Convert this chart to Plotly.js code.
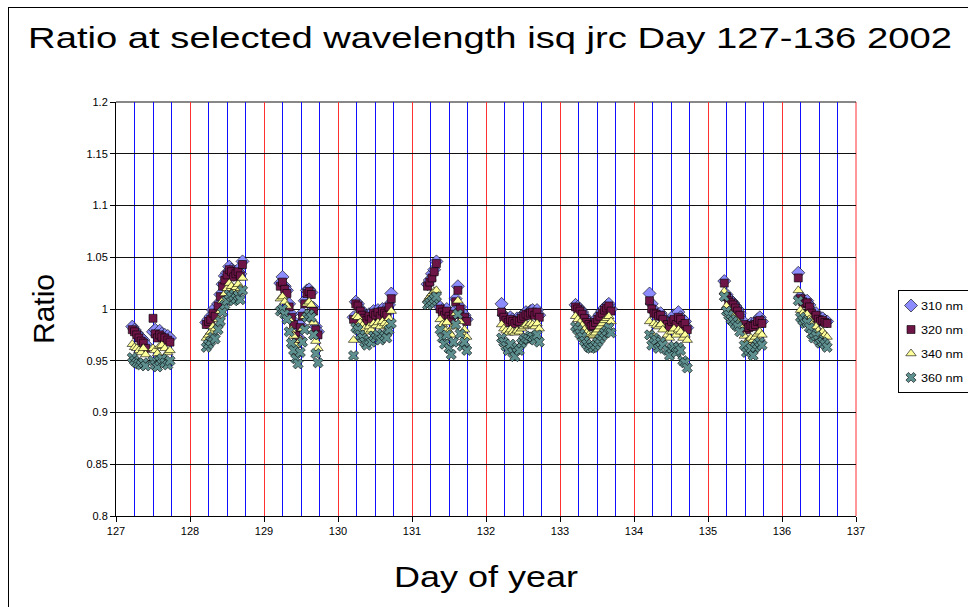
<!DOCTYPE html>
<html>
<head>
<meta charset="utf-8">
<script src="https://cdn.plot.ly/plotly-3.0.1.min.js"></script>
<style>
  html, body { margin: 0; padding: 0; background: #fff; }
  #wrap { position: relative; width: 968px; height: 607px; overflow: hidden; }
  #chart { position: absolute; left: 0; top: 0; width: 968px; height: 607px; }
  #frame { position: absolute; left: 8px; top: 7px; width: 1000px; height: 700px; border: 1px solid #000; pointer-events: none; }
</style>
</head>
<body>
<div id="wrap"><div id="chart"></div><div id="frame"></div></div>
<script>
// Day of year (decimal) for each measurement
const dayOfYear = [
  127.22,127.25,127.28,127.31,127.34,127.37,127.40,127.50,127.53,127.56,127.59,127.62,127.66,127.70,127.73,
  128.22,128.25,128.28,128.31,128.34,128.38,128.41,128.44,128.47,128.50,128.53,128.56,128.59,128.62,128.65,128.68,128.71,
  129.22,129.25,129.28,129.31,129.34,129.37,129.40,129.43,129.46,129.49,129.52,129.55,129.58,129.61,129.64,129.67,129.70,129.73,
  130.21,130.24,130.27,130.30,130.33,130.36,130.39,130.42,130.45,130.48,130.51,130.54,130.57,130.60,130.63,130.66,130.69,130.72,
  131.21,131.24,131.27,131.30,131.33,131.38,131.41,131.44,131.47,131.50,131.53,131.56,131.59,131.62,131.65,131.68,131.71,131.74,
  132.21,132.24,132.27,132.30,132.33,132.36,132.39,132.42,132.45,132.48,132.51,132.54,132.57,132.60,132.63,132.66,132.69,132.72,
  133.21,133.24,133.27,133.30,133.33,133.36,133.39,133.42,133.45,133.48,133.51,133.54,133.57,133.60,133.63,133.66,133.69,
  134.21,134.24,134.27,134.30,134.33,134.36,134.39,134.45,134.48,134.51,134.54,134.57,134.60,134.63,134.66,134.69,134.72,
  135.22,135.25,135.28,135.31,135.34,135.37,135.40,135.43,135.49,135.52,135.55,135.58,135.61,135.64,135.67,135.70,135.73,
  136.22,136.25,136.28,136.31,136.34,136.37,136.40,136.43,136.46,136.49,136.52,136.55,136.58,136.61
];

const ratio310 = [
  0.983,0.980,0.977,0.974,0.972,0.970,0.966,0.978,0.980,0.975,0.979,0.976,0.975,0.974,0.972,
  0.987,0.990,0.993,0.999,0.995,1.005,1.014,1.024,1.032,1.035,1.041,1.038,1.033,1.036,1.038,1.034,1.046,
  1.025,1.031,1.022,1.018,1.005,0.995,0.988,0.978,0.973,0.985,0.996,1.008,1.018,1.019,1.016,1.001,0.983,0.978,
  0.992,1.007,1.005,1.000,0.996,0.993,0.991,0.995,0.992,0.998,0.996,0.999,0.995,1.000,0.998,0.996,1.004,1.015,
  1.024,1.028,1.034,1.038,1.046,1.002,0.999,0.996,1.000,0.995,0.992,0.997,1.010,1.022,1.002,0.992,0.994,0.990,
  1.005,0.994,0.991,0.989,0.992,0.990,0.988,0.991,0.990,0.993,0.995,0.997,0.996,0.998,0.999,0.996,0.999,0.994,
  1.004,1.002,1.000,0.997,0.993,0.989,0.987,0.985,0.986,0.989,0.992,0.995,0.998,1.001,1.003,1.005,1.000,
  1.015,1.005,0.998,0.997,0.995,0.996,0.992,0.987,0.984,0.990,0.994,0.987,0.997,0.992,0.986,0.988,0.982,
  1.027,1.014,1.010,1.008,1.006,1.003,1.000,0.996,0.987,0.982,0.984,0.986,0.985,0.987,0.990,0.992,0.988,
  1.035,1.012,1.009,1.007,1.008,1.004,0.998,0.994,0.996,0.992,0.990,0.991,0.989,0.988
];

const ratio320 = [
  0.980,0.978,0.975,0.972,0.969,0.967,0.962,0.991,0.976,0.972,0.975,0.973,0.972,0.970,0.968,
  0.985,0.988,0.990,0.996,0.993,1.003,1.012,1.022,1.028,1.033,1.038,1.036,1.031,1.034,1.036,1.032,1.043,
  1.022,1.026,1.019,1.015,1.002,0.992,0.985,0.975,0.970,0.982,0.993,1.005,1.015,1.017,1.014,0.998,0.980,0.975,
  0.990,1.005,1.003,0.998,0.994,0.991,0.989,0.993,0.990,0.996,0.994,0.997,0.993,0.998,0.996,0.994,1.002,1.010,
  1.022,1.026,1.030,1.036,1.044,1.000,0.997,0.994,0.998,0.993,0.990,0.995,1.007,1.018,1.000,0.990,0.992,0.988,
  0.997,0.992,0.989,0.987,0.990,0.988,0.986,0.989,0.988,0.991,0.993,0.995,0.994,0.996,0.997,0.994,0.997,0.992,
  1.002,1.000,0.998,0.995,0.991,0.987,0.985,0.983,0.984,0.987,0.990,0.993,0.996,0.999,1.001,1.003,0.998,
  1.008,1.000,0.996,0.995,0.993,0.994,0.990,0.985,0.982,0.988,0.990,0.985,0.992,0.990,0.984,0.986,0.980,
  1.025,1.012,1.008,1.006,1.004,1.001,0.998,0.994,0.985,0.980,0.982,0.984,0.983,0.985,0.988,0.989,0.986,
  1.030,1.010,1.007,1.005,1.006,1.002,0.996,0.992,0.994,0.990,0.988,0.989,0.987,0.986
];

const ratio340 = [
  0.966,0.963,0.962,0.960,0.958,0.962,0.956,0.962,0.960,0.957,0.964,0.965,0.962,0.958,0.960,
  0.972,0.975,0.978,0.983,0.981,0.990,0.998,1.008,1.015,1.020,1.025,1.022,1.018,1.021,1.024,1.020,1.030,
  1.010,1.012,1.007,1.003,0.990,0.980,0.974,0.965,0.958,0.970,0.981,0.993,1.005,1.007,1.004,0.987,0.969,0.962,
  0.970,0.993,0.992,0.987,0.984,0.981,0.978,0.983,0.980,0.986,0.984,0.987,0.983,0.988,0.986,0.984,0.991,0.998,
  1.009,1.012,1.015,1.017,1.018,0.990,0.985,0.980,0.987,0.978,0.975,0.983,0.996,1.008,0.988,0.977,0.980,0.973,
  0.985,0.981,0.979,0.977,0.980,0.978,0.977,0.979,0.978,0.981,0.983,0.985,0.984,0.986,0.985,0.983,0.986,0.981,
  0.993,0.990,0.987,0.984,0.980,0.977,0.975,0.974,0.975,0.977,0.980,0.983,0.986,0.989,0.991,0.993,0.988,
  0.988,0.976,0.986,0.984,0.983,0.985,0.980,0.975,0.972,0.978,0.981,0.975,0.980,0.978,0.972,0.975,0.970,
  1.017,1.003,0.998,0.995,0.993,0.990,0.988,0.984,0.974,0.968,0.970,0.972,0.970,0.973,0.976,0.978,0.975,
  1.018,0.999,0.996,0.994,0.995,0.990,0.985,0.981,0.983,0.979,0.976,0.978,0.975,0.973
];

const ratio360 = [
  0.953,0.950,0.948,0.947,0.946,0.948,0.945,0.950,0.946,0.944,0.950,0.952,0.948,0.946,0.950,
  0.963,0.966,0.969,0.973,0.971,0.980,0.988,0.997,1.004,1.008,1.014,1.012,1.008,1.010,1.013,1.009,1.018,
  0.998,1.000,0.995,0.990,0.978,0.967,0.960,0.952,0.947,0.958,0.968,0.980,0.992,0.995,0.992,0.975,0.957,0.948,
  0.955,0.982,0.980,0.975,0.972,0.968,0.965,0.970,0.968,0.974,0.972,0.975,0.970,0.976,0.974,0.972,0.980,0.986,
  1.004,1.006,1.008,1.010,1.012,0.980,0.972,0.966,0.975,0.962,0.956,0.968,0.985,0.995,0.976,0.964,0.968,0.960,
  0.972,0.968,0.964,0.960,0.966,0.958,0.954,0.963,0.960,0.967,0.970,0.972,0.971,0.974,0.973,0.970,0.975,0.968,
  0.983,0.980,0.976,0.973,0.969,0.966,0.963,0.962,0.963,0.965,0.968,0.971,0.974,0.977,0.979,0.982,0.977,
  0.975,0.965,0.972,0.970,0.962,0.968,0.965,0.960,0.955,0.962,0.964,0.958,0.963,0.960,0.950,0.948,0.943,
  1.012,0.998,0.994,0.990,0.988,0.985,0.983,0.978,0.965,0.958,0.960,0.962,0.955,0.963,0.966,0.968,0.965,
  1.008,0.992,0.989,0.986,0.987,0.982,0.976,0.972,0.974,0.970,0.967,0.968,0.966,0.963
];

const seriesNames = ['310 nm', '320 nm', '340 nm', '360 nm'];
const xTickVals = [127,128,129,130,131,132,133,134,135,136,137];
const yTickVals = [0.8,0.85,0.9,0.95,1,1.05,1.1,1.15,1.2];

const FONT = 'Liberation Sans, Arial, sans-serif';
const outline = { color: '#000', width: 0.6 };

const traces = [
  { x: dayOfYear, y: ratio310, name: seriesNames[0], legendgroup: 'a', type: 'scatter', mode: 'markers',
    marker: { symbol: 'diamond', size: 10, color: '#8C8CFF', line: outline } },
  { x: dayOfYear, y: ratio320, name: seriesNames[1], legendgroup: 'b', type: 'scatter', mode: 'markers',
    marker: { symbol: 'square', size: 8, color: '#6E1548', line: outline } },
  { x: dayOfYear, y: ratio340, name: seriesNames[2], legendgroup: 'c', type: 'scatter', mode: 'markers',
    marker: { symbol: 'triangle-up', size: 9, color: '#FFFF99', line: outline } },
  { x: dayOfYear, y: ratio360, name: seriesNames[3], legendgroup: 'd', type: 'scatter', mode: 'markers',
    marker: { symbol: 'x', size: 9, color: '#5F9090', line: outline } }
];

const layout = {
  width: 968, height: 607,
  margin: { l: 116, r: 112, t: 102, b: 91 },
  paper_bgcolor: '#fff', plot_bgcolor: '#fff',
  font: { family: FONT, color: '#000', size: 11 },
  showlegend: true,
  title: {
    text: 'Ratio at selected wavelength isq jrc Day 127-136 2002',
    font: { family: FONT, size: 30, color: '#000' },
    x: 0.5 + 6 / 968, xref: 'container', xanchor: 'center',
    y: 1 - 38 / 607, yref: 'container', yanchor: 'middle'
  },
  xaxis: {
    range: [127, 137],
    tickmode: 'array', tickvals: xTickVals, ticktext: xTickVals.map(String),
    showgrid: true, gridcolor: '#FF3030', gridwidth: 1,
    minor: { dtick: 0.25, tick0: 127, showgrid: true, gridcolor: '#1010FF', gridwidth: 1, ticks: '' },
    showline: true, linecolor: '#000', linewidth: 1,
    ticks: 'outside', ticklen: 5, tickcolor: '#000',
    tickfont: { family: FONT, size: 11, color: '#000' },
    zeroline: false,
    title: { text: 'Day of year', font: { family: FONT, size: 30, color: '#000' }, standoff: 29 }
  },
  yaxis: {
    range: [0.8, 1.2],
    tickmode: 'array', tickvals: yTickVals, ticktext: yTickVals.map(String),
    showgrid: true, gridcolor: '#111', gridwidth: 1,
    showline: true, linecolor: '#000', linewidth: 1,
    ticks: 'outside', ticklen: 5, tickcolor: '#000',
    tickfont: { family: FONT, size: 11, color: '#000' },
    zeroline: false,
    title: { text: 'Ratio', font: { family: FONT, size: 30, color: '#000' }, standoff: 22 }
  },
  legend: {
    xref: 'container', yref: 'container',
    x: 898 / 968, xanchor: 'left', y: 1 - 290 / 607, yanchor: 'top',
    bordercolor: '#000', borderwidth: 1, bgcolor: '#fff',
    font: { family: FONT, size: 11, color: '#000' },
    tracegroupgap: 5, itemwidth: 30
  },
  shapes: [
    { type: 'line', xref: 'paper', yref: 'paper', x0: 1, x1: 1, y0: 0, y1: 1,
      line: { color: '#FF3030', width: 1 }, layer: 'below' },
    { type: 'line', xref: 'paper', yref: 'paper', x0: 0, x1: 1, y0: 1, y1: 1,
      line: { color: '#111', width: 1 }, layer: 'below' }
  ]
};

// The reference text is drawn horizontally wider than plain Arial; widen texts in place.
function widen(el, factor, anchorStart) {
  const x = parseFloat(el.getAttribute('x')) || 0;
  const prev = el.getAttribute('transform') || '';
  el.setAttribute('transform', prev + ' translate(' + x + ',0) scale(' + factor + ',1) translate(' + (-x) + ',0)');
}

Plotly.newPlot('chart', traces, layout, { displayModeBar: false, staticPlot: true }).then(function () {
  document.querySelectorAll('#chart .gtitle').forEach(function (t) { widen(t, 1.274); });
  document.querySelectorAll('#chart .xtitle').forEach(function (t) { widen(t, 1.2); });
  // Excel-style compact legend: symbol close to the left border, text right after it.
  document.querySelectorAll('#chart .legend .legendpoints').forEach(function (g) {
    const prev = g.getAttribute('transform') || '';
    g.setAttribute('transform', prev + ' translate(-8,0)');
  });
  document.querySelectorAll('#chart .legend .legendtext').forEach(function (t) {
    const prev = t.getAttribute('transform') || '';
    t.setAttribute('transform', prev + ' translate(-18,0)');
    widen(t, 1.15);
  });
});
</script>
</body>
</html>
